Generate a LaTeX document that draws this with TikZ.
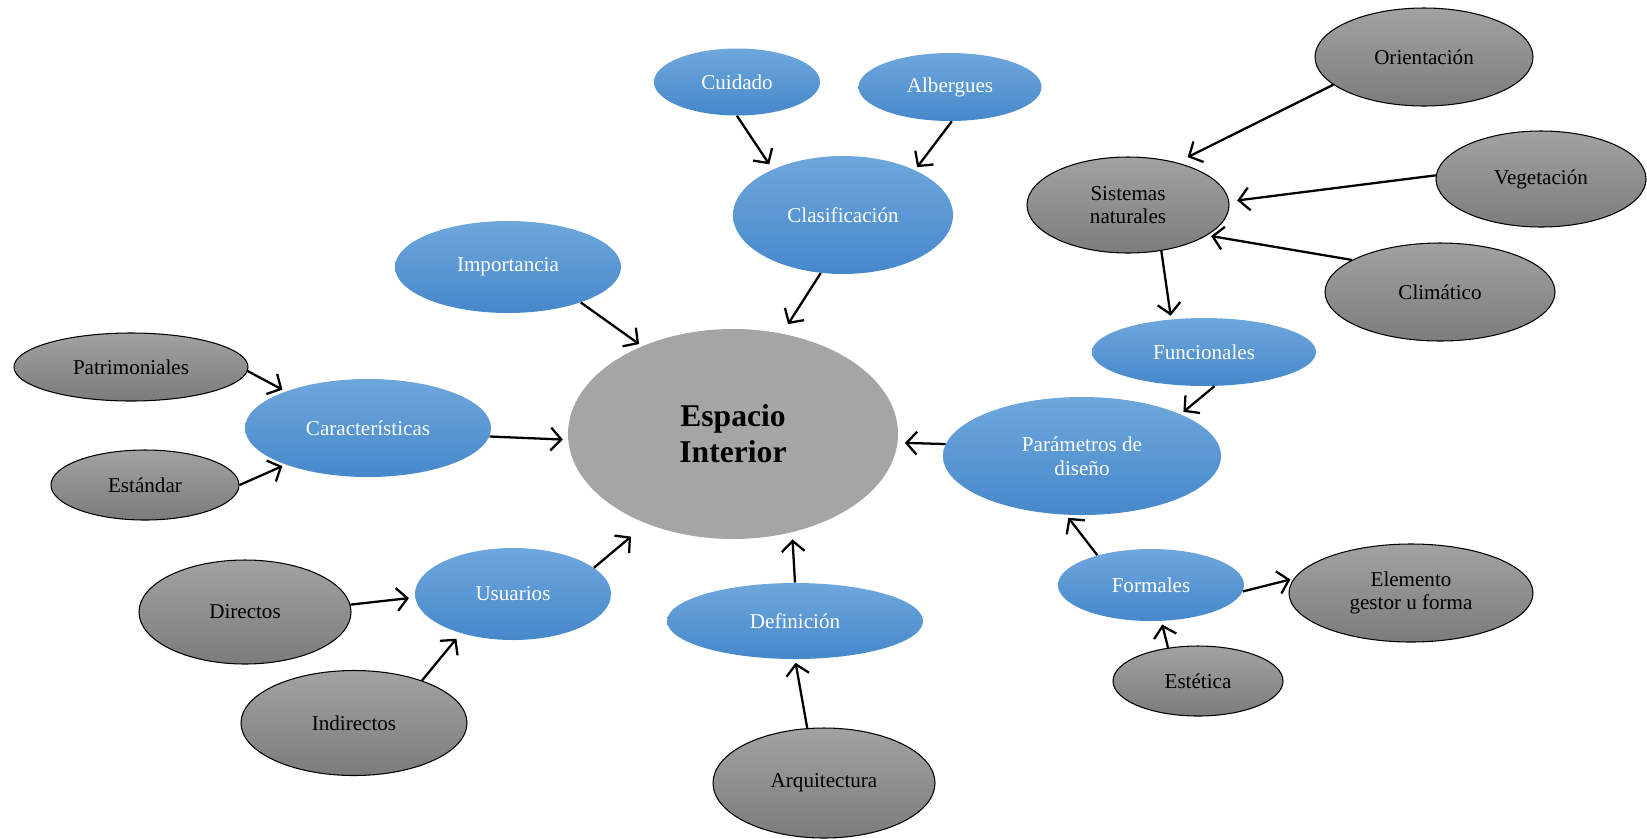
\documentclass[tikz,border=0pt]{standalone}
\usepackage{fontspec}
\setmainfont{Liberation Serif}
\usepackage{tikz}
\usetikzlibrary{arrows,arrows.meta,shapes.geometric}
\definecolor{azularriba}{HTML}{6EA7DC}
\definecolor{azulabajo}{HTML}{4688CB}
\definecolor{grisarriba}{HTML}{A2A2A2}
\definecolor{grisabajo}{HTML}{7C7C7C}
\definecolor{griscentro}{HTML}{A5A5A5}

\begin{document}
\begin{tikzpicture}[scale=2,
    azul/.style={ellipse, inner sep=0pt, top color=azularriba, bottom color=azulabajo,
      text=white, align=center, font=\fontsize{12}{13.5}\selectfont},
    gris/.style={ellipse, inner sep=0pt, draw=black, line width=0.6pt, top color=grisarriba,
      bottom color=grisabajo, align=center, font=\fontsize{12}{13.5}\selectfont},
    flecha/.style={-{Straight Barb[length=6pt,width=13pt]}, line width=1.3pt, shorten >=2pt}]
   \useasboundingbox (0,0) rectangle (16.47,-8.38);

   \draw (7.33,-4.34) node[ellipse, fill=griscentro, minimum width=6.6cm, minimum height=4.2cm,
      align=center, font=\fontsize{18}{20.5}\selectfont\bfseries] (espacio) {Espacio\\Interior};

    \draw (8.43,-2.15) node[azul, minimum width=4.4cm, minimum height=2.36cm] (clasif) {Clasificación};
    \draw (7.37,-0.82) node[azul, minimum width=3.32cm, minimum height=1.34cm] (cuidado) {Cuidado};
    \draw (9.50,-0.87) node[azul, minimum width=3.66cm, minimum height=1.36cm] (albergues) {Albergues};
    \draw (5.08,-2.67) node[azul, minimum width=4.52cm, minimum height=1.84cm] (importancia) {Importancia};
    \draw (3.68,-4.28) node[azul, minimum width=4.92cm, minimum height=1.96cm] (caract) {Características};
    \draw (5.13,-5.94) node[azul, minimum width=3.92cm, minimum height=1.84cm] (usuarios) {Usuarios};
    \draw (7.95,-6.21) node[azul, minimum width=5.12cm, minimum height=1.52cm] (definicion) {Definición};
    \draw (10.82,-4.56) node[azul, minimum width=5.56cm, minimum height=2.36cm] (parametros) {Parámetros de\\diseño};
    \draw (12.04,-3.52) node[azul, minimum width=4.48cm, minimum height=1.36cm] (funcionales) {Funcionales};
    \draw (11.51,-5.85) node[azul, minimum width=3.72cm, minimum height=1.44cm] (formales) {Formales};

  \draw (1.31,-3.67) node[gris, minimum width=4.68cm, minimum height=1.36cm] (patrim) {Patrimoniales};
  \draw (1.45,-4.85) node[gris, minimum width=3.76cm, minimum height=1.40cm] (estandar) {Estándar};
  \draw (2.45,-6.12) node[gris, minimum width=4.24cm, minimum height=2.08cm] (directos) {Directos};
  \draw (3.54,-7.23) node[gris, minimum width=4.52cm, minimum height=2.10cm] (indirectos) {Indirectos};
  \draw (8.24,-7.83) node[gris, minimum width=4.44cm, minimum height=2.20cm] (arquitectura) {Arquitectura};
  \draw (11.28,-2.05) node[gris, minimum width=4.04cm, minimum height=1.92cm] (sistemas) {Sistemas\\naturales};
  \draw (14.24,-0.57) node[gris, minimum width=4.36cm, minimum height=1.96cm] (orientacion) {Orientación};
  \draw (15.41,-1.79) node[gris, minimum width=4.20cm, minimum height=1.92cm] (vegetacion) {Vegetación};
  \draw (14.40,-2.92) node[gris, minimum width=4.60cm, minimum height=1.96cm] (climatico) {Climático};
  \draw (14.11,-5.93) node[gris, minimum width=4.88cm, minimum height=1.96cm] (elemento) {Elemento\\gestor u forma};
  \draw (11.98,-6.81) node[gris, minimum width=3.40cm, minimum height=1.40cm] (estetica) {Estética};

      % hacia el espacio interior
      \path[flecha] (cuidado.-90) edge[shorten >=0.12cm] (clasif.147);
      \path[flecha] (albergues.-87) edge (clasif.32);
      \path[flecha] (clasif.-111) edge[shorten >=0.22cm] (espacio.64);
      \path[flecha] (importancia.-26) edge (espacio.136);
      \path[flecha] (caract.-4) edge[shorten >=0.1cm] (espacio.182);
      \path[flecha] (patrim.-2) edge (caract.156);
      \path[flecha] (estandar.0) edge (caract.204);
      \path[flecha] (usuarios.18) edge[shorten >=0.4cm] (espacio.-134);
      \path[flecha] (directos.4) edge[shorten >=0.12cm] (usuarios.182);
      \path[flecha] (indirectos.32) edge[shorten >=0.14cm] (usuarios.-143);
      \path[flecha] (definicion.90) edge[shorten >=0.14cm] (espacio.-59);
      \path[flecha] (arquitectura.107) edge (definicion.-90);
      \path[flecha] (parametros.175) edge[shorten >=0.14cm] (espacio.-3);

      % parametros de diseno
      \path[flecha] (funcionales.-73) edge (parametros.23);
      \path[flecha] (sistemas.-54) edge (funcionales.135);
      \path[flecha] (orientacion.197) edge[shorten >=0.24cm] (sistemas.41);
      \path[flecha] (vegetacion.178) edge[shorten >=0.16cm] (sistemas.2);
      \path[flecha] (climatico.160) edge[shorten >=0.08cm] (sistemas.-21);
      \path[flecha] (formales.151) edge (parametros.-105);
      \path[flecha] (formales.-4) edge (elemento.173);
      \path[flecha] (estetica.132) edge (formales.-74);

\end{tikzpicture}
\end{document}
